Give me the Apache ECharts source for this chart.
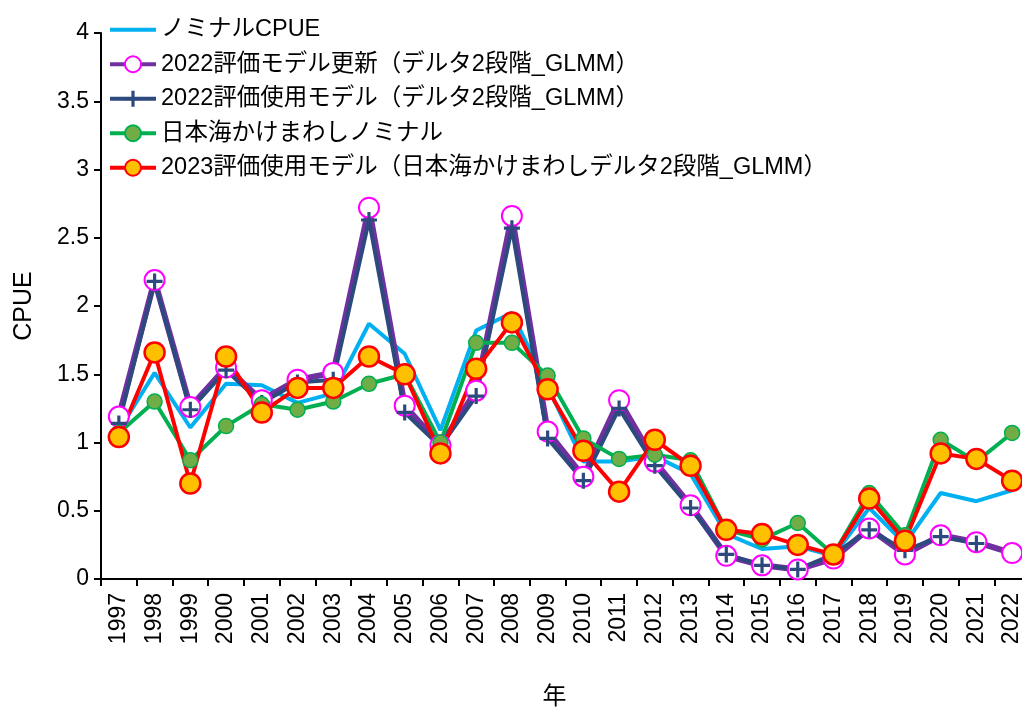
<!DOCTYPE html>
<html>
<head>
<meta charset="utf-8">
<script src="https://cdn.jsdelivr.net/npm/echarts@6/dist/echarts.min.js"></script>
<style>
  html, body { margin: 0; padding: 0; background: #fff; }
  #main { width: 1022px; height: 710px; }
</style>
</head>
<body>
<div id="main"></div>
<script>
const years = ['1997','1998','1999','2000','2001','2002','2003','2004','2005','2006','2007','2008','2009',
  '2010','2011','2012','2013','2014','2015','2016','2017','2018','2019','2020','2021','2022'];

const nominal = [1.09,1.51,1.11,1.43,1.42,1.29,1.36,1.87,1.65,1.09,1.82,1.95,1.41,
  0.86,0.86,0.90,0.77,0.33,0.22,0.24,0.17,0.52,0.26,0.63,0.57,0.65];
const update2022 = [1.19,2.19,1.26,1.55,1.31,1.46,1.51,2.72,1.27,0.98,1.38,2.66,1.08,
  0.75,1.31,0.86,0.54,0.17,0.10,0.07,0.15,0.37,0.18,0.32,0.27,0.19];
const used2022 = [1.14,2.18,1.24,1.53,1.29,1.44,1.46,2.63,1.22,0.97,1.34,2.57,1.03,
  0.72,1.25,0.83,0.52,0.18,0.10,0.07,0.18,0.36,0.21,0.31,0.26,null];
const kakemawashi = [1.07,1.30,0.87,1.12,1.28,1.24,1.30,1.43,1.50,1.00,1.73,1.73,1.49,
  1.03,0.88,0.91,0.87,0.36,0.29,0.41,0.18,0.63,0.32,1.02,0.86,1.07];
const used2023 = [1.04,1.66,0.70,1.63,1.22,1.40,1.40,1.63,1.50,0.92,1.54,1.88,1.39,
  0.94,0.64,1.02,0.83,0.36,0.33,0.25,0.18,0.59,0.28,0.92,0.88,0.72];

const names = [
  'ノミナルCPUE',
  '2022評価モデル更新（デルタ2段階_GLMM）',
  '2022評価使用モデル（デルタ2段階_GLMM）',
  '日本海かけまわしノミナル',
  '2023評価使用モデル（日本海かけまわしデルタ2段階_GLMM）'
];

const font = '"Liberation Sans", Arial, "Noto Sans CJK JP", sans-serif';
// plus sign marker
const plus = 'path://M4,0h2v4h4v2h-4v4h-2v-4h-4v-2h4z';

const chart = echarts.init(document.getElementById('main'));
chart.setOption({
  animation: false,
  textStyle: { fontFamily: font, color: '#000' },
  grid: { left: 101, right: -8, top: 33, bottom: 131, containLabel: false, outerBoundsMode: 'none' },
  legend: {
    orient: 'vertical',
    left: 103,
    top: 13,
    itemWidth: 46,
    itemHeight: 20,
    itemGap: 11,
    textStyle: { fontSize: 23.5, lineHeight: 20, color: '#000', fontFamily: font },
    data: [
      { name: names[0], itemStyle: { opacity: 0 }, lineStyle: { width: 4 } },
      { name: names[1], lineStyle: { width: 4 } },
      { name: names[2], lineStyle: { width: 4 } },
      { name: names[3], lineStyle: { width: 4 } },
      { name: names[4], lineStyle: { width: 4 } }
    ]
  },
  xAxis: {
    type: 'category',
    data: years,
    boundaryGap: true,
    name: '年',
    nameLocation: 'middle',
    nameGap: 106,
    nameTextStyle: { fontSize: 24, color: '#000', padding: [0, 22, 0, 0] },
    axisLine: { lineStyle: { color: '#000', width: 2 } },
    axisTick: { show: true, length: 7, inside: false, lineStyle: { color: '#000', width: 2 } },
    axisLabel: { rotate: 90, fontSize: 23, color: '#000', margin: 14, interval: 0 },
    splitLine: { show: false }
  },
  yAxis: {
    type: 'value',
    min: 0,
    max: 4,
    interval: 0.5,
    name: 'CPUE',
    nameLocation: 'middle',
    nameGap: 64,
    nameTextStyle: { fontSize: 25, color: '#000' },
    axisLine: { show: true, lineStyle: { color: '#000', width: 2 } },
    axisTick: { show: true, length: 7, lineStyle: { color: '#000', width: 2 } },
    axisLabel: { fontSize: 23, color: '#000', margin: 12 },
    splitLine: { show: false }
  },
  series: [
    {
      name: names[0], type: 'line', data: nominal,
      symbol: 'none',
      lineStyle: { color: '#00B0F0', width: 4 },
      itemStyle: { color: '#00B0F0' }
    },
    {
      name: names[1], type: 'line', data: update2022,
      symbol: 'circle', symbolSize: 20, showAllSymbol: true,
      lineStyle: { color: '#7030A0', width: 6 },
      itemStyle: { color: '#fff', borderColor: '#FF00FF', borderWidth: 2 }
    },
    {
      name: names[2], type: 'line', data: used2022,
      symbol: plus, symbolSize: 16, showAllSymbol: true,
      lineStyle: { color: '#2C4A7E', width: 4 },
      itemStyle: { color: '#2C4A7E' }
    },
    {
      name: names[3], type: 'line', data: kakemawashi,
      symbol: 'circle', symbolSize: 15, showAllSymbol: true,
      lineStyle: { color: '#00B050', width: 4 },
      itemStyle: { color: '#70AD47', borderColor: '#00B050', borderWidth: 1.5 }
    },
    {
      name: names[4], type: 'line', data: used2023,
      symbol: 'circle', symbolSize: 20, showAllSymbol: true,
      lineStyle: { color: '#FF0000', width: 4 },
      itemStyle: { color: '#FFC000', borderColor: '#FF0000', borderWidth: 2.5 }
    }
  ]
});
</script>
</body>
</html>
